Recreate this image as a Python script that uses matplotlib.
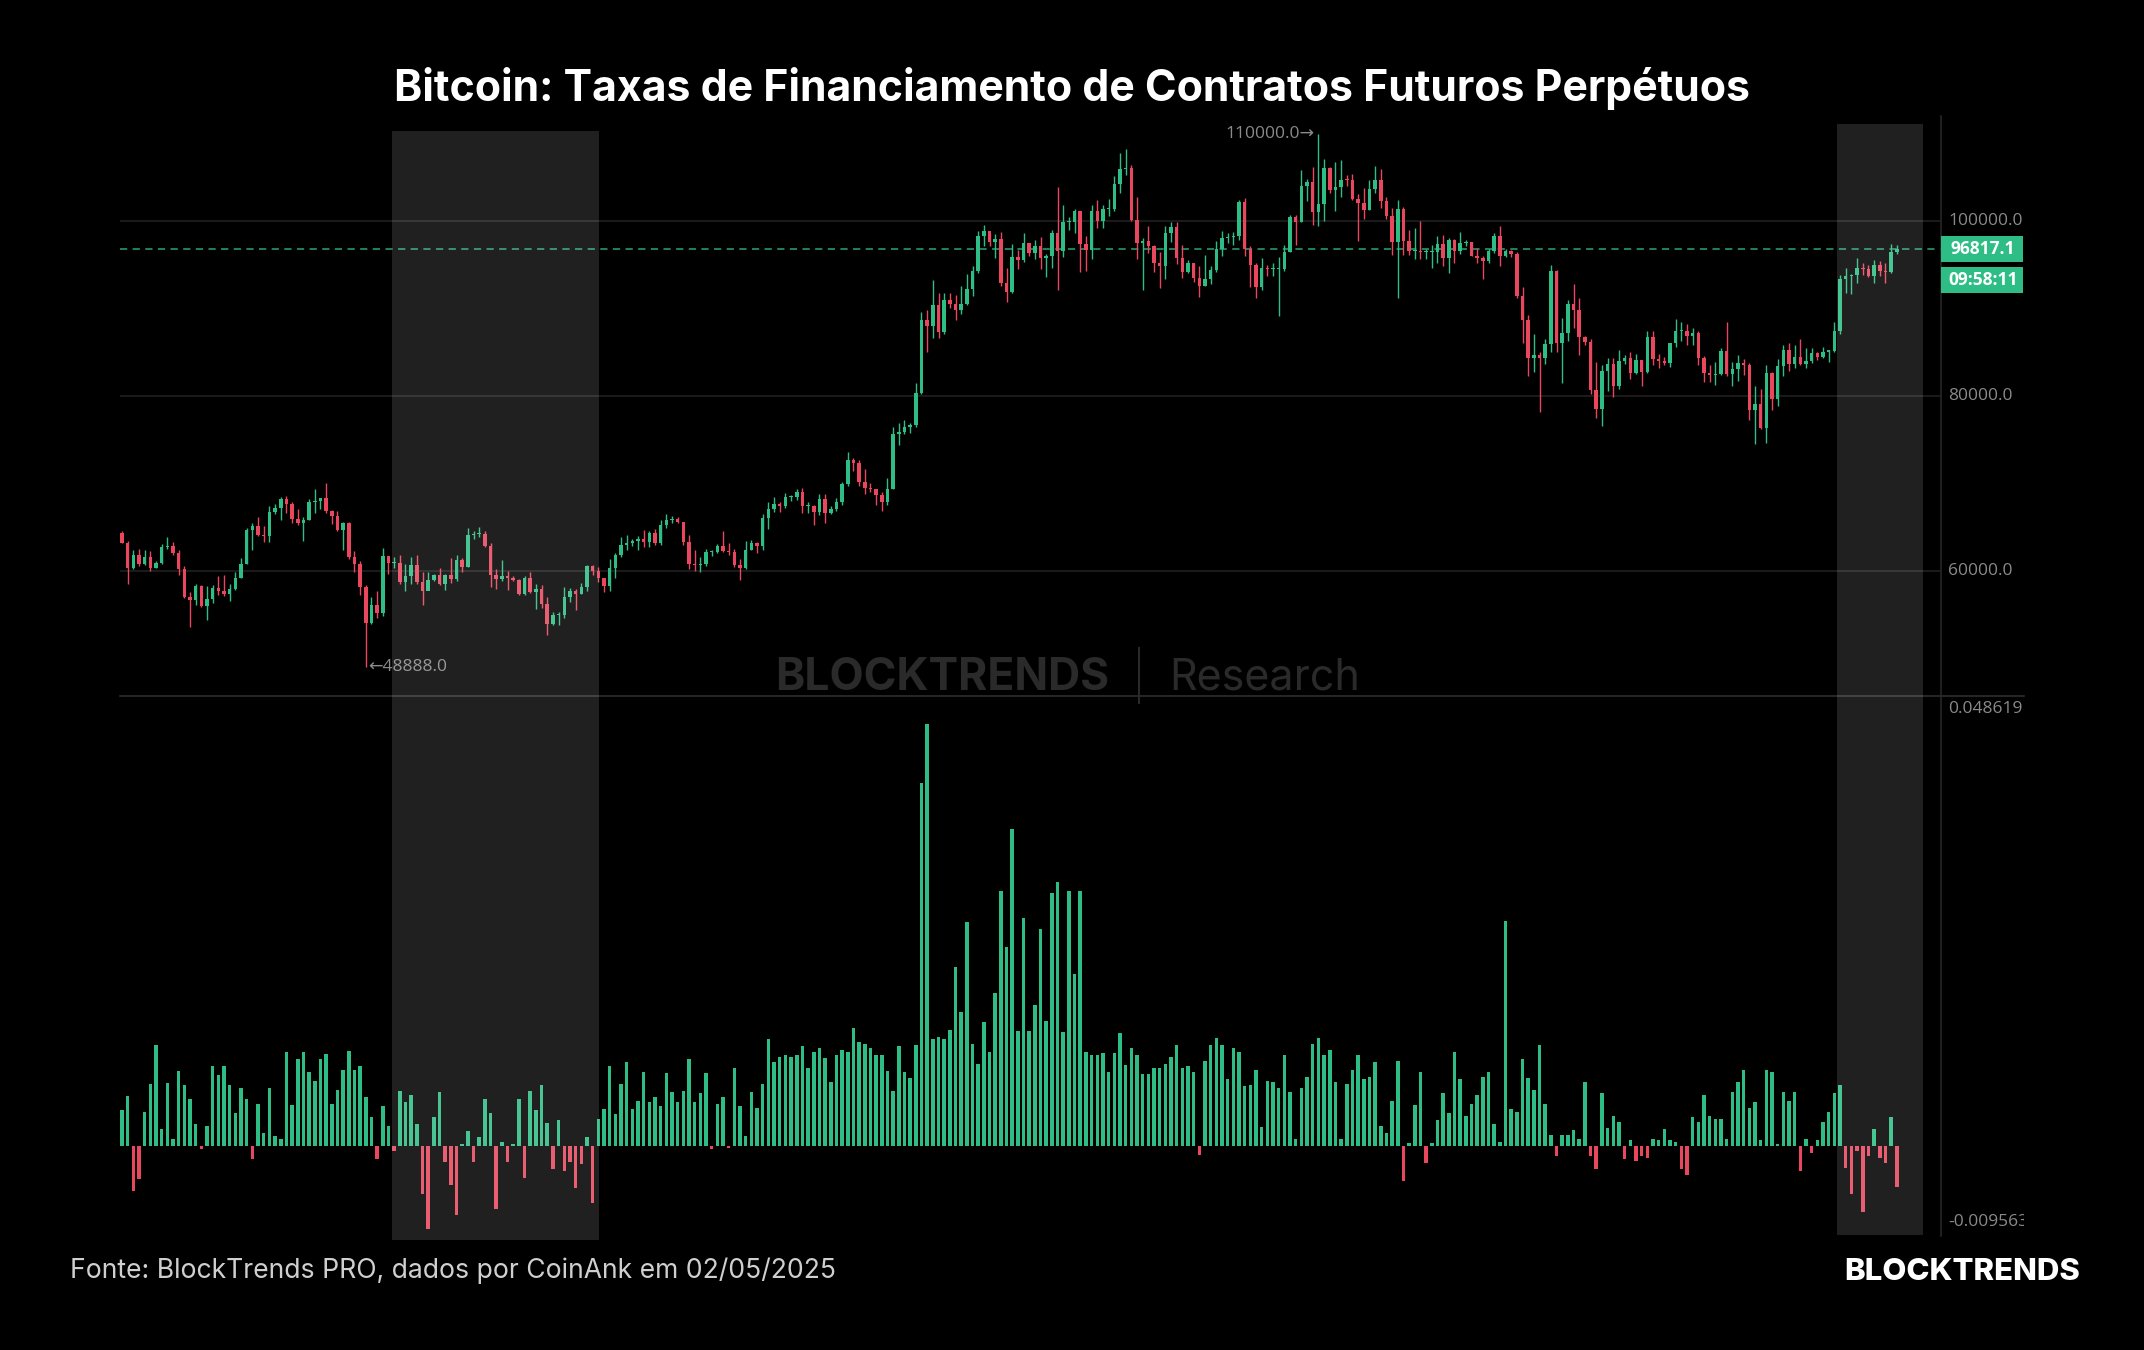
"""Bitcoin perpetual futures funding rates vs daily BTC price (BlockTrends style)."""

import numpy as np
import matplotlib
matplotlib.use("Agg")
import matplotlib.pyplot as plt
from matplotlib.patches import Rectangle
from matplotlib.lines import Line2D
from matplotlib.transforms import Bbox, blended_transform_factory

W, H = 2144, 1350

TITLE = "Bitcoin: Taxas de Financiamento de Contratos Futuros Perpétuos"
SOURCE = "Fonte: BlockTrends PRO, dados por CoinAnk em 02/05/2025"
COUNTDOWN = "09:58:11"

# daily candles, 23/06/2024 -> 02/05/2025, prices in thousand USD
FIRST_OPEN = 64.3
CLOSE = [
    63.2, 60.3, 61.8, 60.8, 61.6, 60.3, 60.9, 62.7, 62.8, 62.0, 60.2, 57.0, 56.6, 58.2, 55.9, 56.7,
    58.0, 57.7, 57.3, 57.9, 59.2, 60.8, 64.7, 65.1, 64.1, 63.9, 66.7, 67.2, 68.2, 67.6, 65.9, 65.4,
    65.8, 67.9, 68.0, 68.3, 66.8, 66.2, 64.6, 65.4, 61.5, 60.7, 58.1, 54.0, 56.0, 55.1, 61.7, 60.9,
    60.9, 58.7, 59.4, 60.6, 58.7, 57.6, 58.9, 59.5, 58.4, 59.5, 59.0, 61.2, 60.4, 64.1, 64.2, 64.2,
    62.8, 59.5, 59.0, 59.4, 59.1, 58.9, 57.3, 59.1, 57.5, 57.9, 56.2, 53.9, 54.9, 54.9, 57.0, 57.6,
    57.3, 58.1, 60.5, 60.0, 59.2, 58.2, 60.3, 61.8, 62.9, 63.2, 63.4, 63.6, 63.3, 64.3, 63.1, 65.2,
    65.8, 65.9, 65.6, 63.3, 60.8, 60.6, 60.8, 62.1, 62.1, 62.8, 62.2, 62.1, 60.6, 60.3, 62.4, 63.2,
    62.8, 66.0, 67.0, 67.6, 67.4, 68.4, 68.4, 69.0, 67.4, 67.4, 66.7, 68.2, 66.6, 67.0, 67.9, 69.9,
    72.7, 72.3, 70.2, 69.5, 69.3, 68.7, 67.8, 69.4, 75.6, 75.9, 76.5, 76.7, 80.4, 88.7, 88.0, 90.4,
    87.3, 91.0, 90.6, 89.8, 90.5, 92.3, 94.3, 98.3, 98.9, 97.7, 98.0, 93.0, 91.9, 95.9, 95.6, 97.5,
    96.4, 97.2, 95.8, 96.0, 98.7, 96.6, 99.9, 99.9, 101.2, 97.4, 96.7, 101.2, 100.0, 101.4, 101.4, 104.3,
    106.0, 106.1, 100.2, 97.5, 97.8, 97.2, 95.2, 94.9, 98.7, 99.4, 95.8, 94.2, 95.2, 93.5, 92.6, 93.4,
    94.4, 96.9, 98.1, 98.2, 98.3, 102.2, 96.9, 95.0, 92.5, 94.7, 94.5, 94.5, 94.5, 96.5, 100.5, 99.9,
    104.1, 104.5, 101.1, 102.0, 106.1, 103.6, 103.9, 104.8, 104.7, 102.6, 102.1, 101.3, 103.7, 104.7, 102.4, 100.6,
    97.7, 101.4, 97.8, 96.6, 96.6, 96.5, 96.5, 96.5, 97.4, 95.8, 97.9, 96.6, 97.5, 97.6, 96.1, 95.8,
    95.5, 96.6, 98.3, 96.1, 96.6, 96.3, 91.5, 88.7, 84.3, 84.7, 84.4, 86.0, 94.3, 86.1, 87.2, 90.6,
    89.9, 86.8, 86.2, 80.7, 78.5, 82.9, 83.7, 81.1, 84.0, 84.3, 82.6, 84.1, 82.7, 86.8, 84.2, 84.0,
    83.8, 86.1, 87.4, 87.5, 86.9, 87.2, 84.4, 82.6, 82.4, 82.5, 85.2, 82.5, 83.1, 83.8, 83.5, 78.4,
    79.1, 76.3, 82.6, 79.6, 83.4, 85.3, 83.7, 84.5, 83.7, 84.0, 84.9, 84.5, 85.1, 85.2, 87.5, 93.4,
    93.7, 93.9, 94.7, 94.6, 93.8, 95.0, 94.3, 94.2, 96.5, 96.8171,
]
HIGH = [
    64.5, 63.4, 62.4, 62.5, 62.3, 62.2, 61.1, 63.0, 63.8, 63.3, 62.3, 60.5, 57.5, 58.5, 58.3, 58.2,
    58.3, 59.4, 59.5, 58.5, 59.8, 61.4, 64.9, 65.4, 66.1, 65.1, 67.4, 67.6, 68.4, 68.5, 67.8, 67.1,
    66.1, 68.2, 69.4, 68.3, 70.0, 66.9, 66.8, 65.6, 65.6, 62.2, 61.1, 58.3, 57.0, 57.7, 62.6, 61.7,
    61.5, 61.8, 60.7, 61.6, 61.8, 59.8, 59.8, 59.6, 60.3, 59.6, 61.4, 61.8, 61.4, 64.9, 64.5, 65.0,
    64.5, 63.2, 60.2, 61.2, 59.9, 59.4, 59.0, 59.4, 59.8, 58.5, 58.3, 57.0, 55.3, 55.3, 58.1, 58.0,
    57.9, 58.6, 60.6, 60.6, 60.4, 59.2, 61.3, 62.0, 63.8, 64.1, 63.6, 64.0, 64.7, 64.5, 64.8, 65.8,
    66.5, 66.3, 66.1, 65.6, 64.1, 62.4, 61.6, 62.5, 62.4, 63.0, 64.5, 63.2, 62.5, 61.3, 63.4, 63.5,
    63.3, 66.5, 67.9, 68.4, 67.9, 68.9, 68.7, 69.4, 69.5, 67.8, 67.5, 68.8, 68.8, 67.4, 68.3, 70.2,
    73.6, 72.9, 72.7, 71.6, 70.0, 69.4, 69.0, 70.6, 76.5, 76.9, 77.2, 76.9, 81.5, 89.6, 89.9, 93.3,
    91.8, 91.8, 91.8, 91.6, 92.6, 94.0, 94.9, 98.9, 99.6, 98.7, 98.6, 98.8, 94.7, 97.4, 96.7, 98.7,
    97.5, 97.9, 98.2, 96.3, 99.0, 103.9, 101.9, 100.5, 101.4, 101.2, 98.3, 101.9, 102.5, 101.9, 102.6, 105.2,
    107.8, 108.3, 106.5, 102.8, 98.1, 99.5, 97.3, 96.5, 99.5, 99.9, 99.9, 97.3, 95.6, 95.2, 94.9, 96.2,
    94.9, 97.8, 98.9, 98.7, 98.8, 102.5, 102.7, 97.2, 95.3, 95.8, 95.0, 95.3, 95.9, 97.3, 100.7, 100.8,
    105.9, 104.9, 106.3, 110.0, 107.2, 106.3, 106.8, 107.0, 105.3, 105.5, 103.2, 103.8, 104.8, 106.4, 106.0, 102.8,
    101.5, 102.5, 101.7, 99.0, 99.2, 100.1, 96.9, 97.3, 98.3, 98.5, 98.1, 98.0, 98.8, 97.9, 97.7, 97.0,
    96.0, 96.9, 98.7, 99.5, 96.9, 96.7, 96.5, 92.5, 89.3, 87.1, 85.1, 86.5, 95.0, 94.4, 88.9, 91.0,
    92.8, 91.2, 86.9, 86.5, 83.9, 83.6, 84.4, 84.4, 85.3, 84.7, 85.0, 84.8, 84.1, 87.4, 87.5, 84.8,
    84.5, 86.1, 88.8, 88.5, 88.3, 87.8, 87.5, 84.6, 83.5, 83.9, 85.5, 88.5, 83.9, 84.7, 84.2, 83.8,
    81.2, 80.8, 83.5, 82.7, 84.2, 85.9, 86.1, 85.8, 86.5, 85.5, 85.5, 85.0, 85.6, 85.3, 88.5, 93.9,
    94.7, 94.0, 95.8, 95.3, 95.0, 95.6, 95.5, 95.2, 97.4, 97.3,
]
LOW = [
    63.2, 58.4, 60.2, 60.5, 60.6, 60.0, 60.3, 60.7, 62.5, 61.8, 59.5, 56.8, 53.5, 56.1, 55.8, 54.3,
    56.3, 57.2, 57.1, 56.5, 57.8, 59.2, 60.7, 62.4, 63.9, 63.3, 63.3, 66.5, 65.8, 66.6, 65.5, 65.2,
    63.4, 65.8, 66.6, 67.1, 66.6, 65.3, 64.5, 62.3, 61.3, 59.8, 57.2, 48.888, 53.9, 54.6, 54.8, 59.6,
    60.3, 58.4, 57.7, 58.5, 58.4, 56.1, 57.8, 58.8, 58.3, 57.8, 58.6, 58.8, 59.8, 60.4, 63.6, 63.8,
    62.7, 58.1, 57.9, 58.8, 57.8, 58.8, 57.2, 57.2, 57.4, 55.6, 55.7, 52.6, 53.8, 53.7, 54.6, 56.4,
    55.5, 57.3, 57.6, 59.5, 58.7, 57.5, 57.6, 59.2, 61.6, 62.3, 62.8, 62.4, 62.7, 62.7, 62.9, 62.9,
    64.9, 65.4, 65.4, 62.9, 60.2, 59.9, 59.8, 60.5, 61.7, 62.0, 62.1, 61.8, 60.4, 58.9, 60.2, 62.4,
    62.0, 62.4, 64.8, 66.7, 66.7, 67.2, 68.0, 68.1, 66.6, 66.6, 65.2, 66.4, 65.5, 66.5, 66.8, 67.5,
    69.7, 71.4, 69.7, 68.8, 69.0, 67.5, 66.8, 67.5, 69.3, 74.4, 75.6, 75.8, 76.5, 80.2, 85.1, 86.6,
    86.7, 87.1, 90.1, 88.7, 89.4, 90.4, 91.5, 94.1, 97.2, 97.2, 95.8, 92.6, 90.8, 91.8, 94.6, 95.4,
    96.1, 95.7, 94.5, 93.6, 94.7, 92.1, 95.9, 99.0, 98.7, 94.2, 94.3, 95.7, 99.3, 99.2, 100.6, 101.2,
    103.3, 105.3, 100.0, 95.7, 92.2, 96.4, 94.2, 92.4, 93.4, 97.6, 95.1, 93.5, 94.1, 93.1, 91.3, 92.6,
    92.8, 94.2, 96.0, 97.5, 97.3, 97.9, 96.1, 92.5, 91.2, 92.2, 93.8, 93.7, 89.2, 94.3, 96.5, 97.3,
    99.9, 102.3, 99.6, 99.5, 100.1, 103.3, 101.2, 102.8, 104.1, 102.5, 97.8, 100.3, 101.3, 103.3, 101.6, 100.3,
    96.2, 91.2, 96.2, 96.2, 95.7, 95.7, 95.7, 94.7, 95.3, 94.9, 94.1, 95.2, 96.3, 97.2, 96.0, 95.2,
    93.4, 95.2, 96.4, 94.9, 95.9, 95.9, 91.2, 86.1, 82.3, 82.7, 78.2, 83.7, 85.0, 85.1, 81.5, 86.3,
    87.8, 84.7, 85.9, 80.2, 77.5, 76.6, 80.6, 79.9, 80.8, 83.7, 82.0, 82.5, 81.2, 82.6, 83.6, 83.2,
    83.6, 83.3, 85.6, 86.3, 85.9, 85.8, 83.6, 81.6, 81.6, 81.3, 82.4, 82.3, 81.2, 81.7, 82.4, 77.2,
    74.5, 76.2, 74.6, 78.4, 78.9, 82.3, 82.9, 83.2, 83.6, 83.2, 83.8, 84.1, 84.3, 83.9, 85.1, 87.1,
    91.8, 91.7, 92.9, 93.9, 93.6, 92.9, 93.8, 92.9, 94.1, 96.3,
]

# funding rate per day (same dates)
FUNDING = [
    0.0042, 0.0058, -0.0052, -0.0038, 0.0039, 0.0072, 0.0116, 0.0020, 0.0073, 0.0008, 0.0087, 0.0070,
    0.0054, 0.0025, -0.0003, 0.0023, 0.0092, 0.0082, 0.0092, 0.0070, 0.0038, 0.0067, 0.0054, -0.0015,
    0.0049, 0.0015, 0.0067, 0.0012, 0.0008, 0.0108, 0.0047, 0.0100, 0.0108, 0.0085, 0.0075, 0.0100,
    0.0106, 0.0049, 0.0065, 0.0088, 0.0110, 0.0088, 0.0092, 0.0056, 0.0034, -0.0015, 0.0046, 0.0023,
    -0.0006, 0.0064, 0.0051, 0.0059, 0.0025, -0.0055, -0.009563, 0.0033, 0.0062, -0.0019, -0.0045, -0.0079,
    0.0002, 0.0017, -0.0019, 0.0010, 0.0054, 0.0038, -0.0073, 0.0005, -0.0019, 0.0002, 0.0054, -0.0037,
    0.0064, 0.0041, 0.0070, 0.0026, -0.0027, 0.0030, -0.0029, -0.0019, -0.0048, -0.0021, 0.0010, -0.0066,
    0.0031, 0.0043, 0.0092, 0.0037, 0.0071, 0.0097, 0.0043, 0.0052, 0.0085, 0.0051, 0.0056, 0.0046,
    0.0084, 0.0062, 0.0051, 0.0064, 0.0100, 0.0051, 0.0061, 0.0084, -0.0004, 0.0048, 0.0056, -0.0002,
    0.0090, 0.0046, 0.0012, 0.0062, 0.0044, 0.0072, 0.0123, 0.0097, 0.0103, 0.0105, 0.0103, 0.0105,
    0.0115, 0.0090, 0.0108, 0.0113, 0.0102, 0.0074, 0.0105, 0.0111, 0.0108, 0.0136, 0.0120, 0.0118,
    0.0113, 0.0105, 0.0105, 0.0087, 0.0064, 0.0115, 0.0085, 0.0079, 0.0116, 0.0419, 0.048619, 0.0123,
    0.0126, 0.0123, 0.0134, 0.0207, 0.0154, 0.0258, 0.0118, 0.0095, 0.0143, 0.0108, 0.0177, 0.0294,
    0.0230, 0.0366, 0.0133, 0.0263, 0.0133, 0.0163, 0.0250, 0.0144, 0.0292, 0.0305, 0.0131, 0.0294,
    0.0198, 0.0294, 0.0108, 0.0105, 0.0105, 0.0107, 0.0085, 0.0107, 0.0130, 0.0093, 0.0113, 0.0105,
    0.0083, 0.0083, 0.0090, 0.0090, 0.0095, 0.0103, 0.0116, 0.0090, 0.0092, 0.0085, -0.0010, 0.0098,
    0.0116, 0.0124, 0.0116, 0.0077, 0.0113, 0.0108, 0.0069, 0.0070, 0.0088, 0.0022, 0.0075, 0.0074,
    0.0067, 0.0105, 0.0062, 0.0008, 0.0067, 0.0080, 0.0118, 0.0124, 0.0105, 0.0111, 0.0074, 0.0008,
    0.0072, 0.0088, 0.0105, 0.0077, 0.0080, 0.0097, 0.0023, 0.0015, 0.0052, 0.0098, -0.0040, 0.0003,
    0.0047, 0.0085, -0.0020, 0.0003, 0.0030, 0.0061, 0.0038, 0.0108, 0.0077, 0.0035, 0.0049, 0.0059,
    0.0080, 0.0085, 0.0025, 0.0005, 0.0260, 0.0043, 0.0039, 0.0100, 0.0078, 0.0065, 0.0116, 0.0049,
    0.0013, -0.0011, 0.0013, 0.0013, 0.0018, 0.0008, 0.0074, -0.0011, -0.0027, 0.0061, 0.0021, 0.0035,
    0.0028, -0.0015, 0.0007, -0.0017, -0.0011, -0.0014, 0.0008, 0.0007, 0.0020, 0.0007, 0.0005, -0.0027,
    -0.0033, 0.0033, 0.0028, 0.0059, 0.0035, 0.0031, 0.0031, 0.0008, 0.0062, 0.0074, 0.0088, 0.0044,
    0.0051, 0.0007, 0.0088, 0.0085, 0.0002, 0.0062, 0.0052, 0.0062, -0.0029, 0.0008, -0.0008, 0.0007,
    0.0028, 0.0039, 0.0061, 0.0070, -0.0025, -0.0055, -0.0006, -0.0076, -0.0012, 0.0020, -0.0014, -0.0020,
    0.0033, -0.0047,
]

PRICE_TICKS = [60.0, 80.0, 100.0]
# highlighted windows, in day-index units (start, end)
HIGHLIGHTS = [(47.6, 84.1), (302.5, 317.6)]

BG = "#000000"
UP = "#2ebd85"
DOWN = "#e8475e"
GRID = "#1d1d1d"
AXIS_TXT = "#8a8a8a"
FONT = ["Open Sans", "DejaVu Sans"]
SANS = ["Inter", "DejaVu Sans"]
LBL = 12.5


def fx(px):
    return px / W


def fy(py):
    return 1 - py / H


def px_axes(left, top, right, bottom):
    return [fx(left), fy(bottom), (right - left) / W, (bottom - top) / H]


fig = plt.figure(figsize=(W / 100, H / 100), dpi=100, facecolor=BG)

n = len(CLOSE)
x = np.arange(n)
close = np.array(CLOSE)
opn = np.array([FIRST_OPEN] + CLOSE[:-1])
high = np.array(HIGH)
low = np.array(LOW)
cols = np.where(close >= opn, UP, DOWN)

XLIM = (-0.35, 320.8)

# ── price panel ──────────────────────────────────────────────────────────
ax = fig.add_axes(px_axes(120, 116, 1941, 696))
ax.set_facecolor(BG)
ax.set_xlim(*XLIM)
ax.set_ylim(45.62, 112.09)
for t in PRICE_TICKS:
    ax.axhline(t, color=GRID, lw=1.3, zorder=0)
ax.vlines(x, low, high, colors=cols, lw=1.0, zorder=2)
body = np.maximum(np.abs(close - opn), 0.12)
ax.bar(x, body, bottom=np.minimum(opn, close), width=0.62, color=cols, lw=0, zorder=3)
last = CLOSE[-1]
ax.axhline(last, color=UP, lw=1.3, ls=(0, (4, 3)), alpha=0.75, zorder=1)
for s in ax.spines.values():
    s.set_visible(False)
ax.set_xticks([])
ax.set_yticks([])

tr = blended_transform_factory(fig.transFigure, ax.transData)
for t in PRICE_TICKS:
    fig.text(fx(1948), t, f"{t * 1000:.1f}", transform=tr,
             ha="left", va="center", fontsize=LBL, color=AXIS_TXT, family=FONT)

# extreme labels
imax = int(np.argmax(high))
imin = int(np.argmin(low))
ax.annotate(f"{high[imax] * 1000:.1f}\u2192", (imax, high[imax]), xytext=(-3, 0),
            textcoords="offset points", ha="right", va="center", fontsize=LBL,
            color=AXIS_TXT, family=FONT)
ax.annotate(f"\u2190{low[imin] * 1000:.1f}", (imin, low[imin]), xytext=(2, 0),
            textcoords="offset points", ha="left", va="center", fontsize=LBL,
            color=AXIS_TXT, family=FONT)

# last price + countdown boxes
fig.canvas.draw()
ly_px = H - ax.transData.transform((0, last))[1]
for i, txt in enumerate([f"{last * 1000:.1f}", COUNTDOWN]):
    yc = ly_px + i * 31
    fig.add_artist(Rectangle((fx(1941), fy(yc + 13)), 82 / W, 26 / H,
                             transform=fig.transFigure, color=UP, lw=0, zorder=4))
    fig.text(fx(1983), fy(yc), txt, ha="center", va="center", fontsize=LBL,
             fontweight="bold", color="white", family=FONT, zorder=5)

# ── funding panel ────────────────────────────────────────────────────────
ax2 = fig.add_axes(px_axes(120, 696, 1941, 1240))
ax2.set_facecolor(BG)
ax2.set_xlim(*XLIM)
ax2.set_ylim(-0.01084, 0.0519)
fund = np.array(FUNDING)
ax2.bar(np.arange(len(fund)), fund, width=0.62,
        color=np.where(fund >= 0, UP, DOWN), lw=0, zorder=2)
for s in ax2.spines.values():
    s.set_visible(False)
ax2.set_xticks([])
ax2.set_yticks([])

# scale labels: max sits just under the divider, min near the panel bottom
fmax, fmin = fund.max(), fund.min()
fig.text(fx(1948), fy(709), f"{fmax:.6f}", ha="left", va="center",
         fontsize=LBL, color=AXIS_TXT, family=FONT)
t_min = fig.text(fx(1948), fy(1222), f"{fmin:.6f}", ha="left", va="center",
                 fontsize=LBL, color=AXIS_TXT, family=FONT)
t_min.set_clip_on(True)
t_min.set_clip_box(Bbox.from_extents(0, 0, 2024, H))

# separators
fig.add_artist(Line2D([fx(120), fx(2024)], [fy(696), fy(696)], color="#2e2e2e", lw=1.2))
fig.add_artist(Line2D([fx(1941), fx(1941)], [fy(116), fy(1236)], color="#262626", lw=1.2))

# highlighted windows
for (a, b), (top, bot) in zip(HIGHLIGHTS, [(131, 1240), (124, 1235)]):
    xa = ax.transData.transform((a, 0))[0]
    xb = ax.transData.transform((b, 0))[0]
    fig.add_artist(Rectangle((xa / W, fy(bot)), (xb - xa) / W, (bot - top) / H,
                             transform=fig.transFigure, color="white", alpha=0.13,
                             lw=0, zorder=10))

# watermark
fig.text(fx(775), fy(678), "BLOCKTRENDS", ha="left", va="center", fontsize=32,
         fontweight="bold", color="#2a2a2a", family=SANS)
fig.add_artist(Line2D([fx(1139), fx(1139)], [fy(648), fy(703)], color="#2a2a2a", lw=1.5))
fig.text(fx(1169), fy(678), "Research", ha="left", va="center", fontsize=31,
         color="#2a2a2a", family=SANS)

# title & footer
fig.text(0.5, fy(89), TITLE, ha="center", va="center", fontsize=30.8, fontweight="bold",
         color="white", family=SANS)
fig.text(fx(70), fy(1271), SOURCE, ha="left", va="center", fontsize=19.1,
         color="#cfcfcf", family=SANS)
fig.text(fx(2080), fy(1272), "BLOCKTRENDS", ha="right", va="center", fontsize=22.4,
         fontweight="heavy", color="white", family=SANS)

fig.savefig("out.png", dpi=100, facecolor=BG)
